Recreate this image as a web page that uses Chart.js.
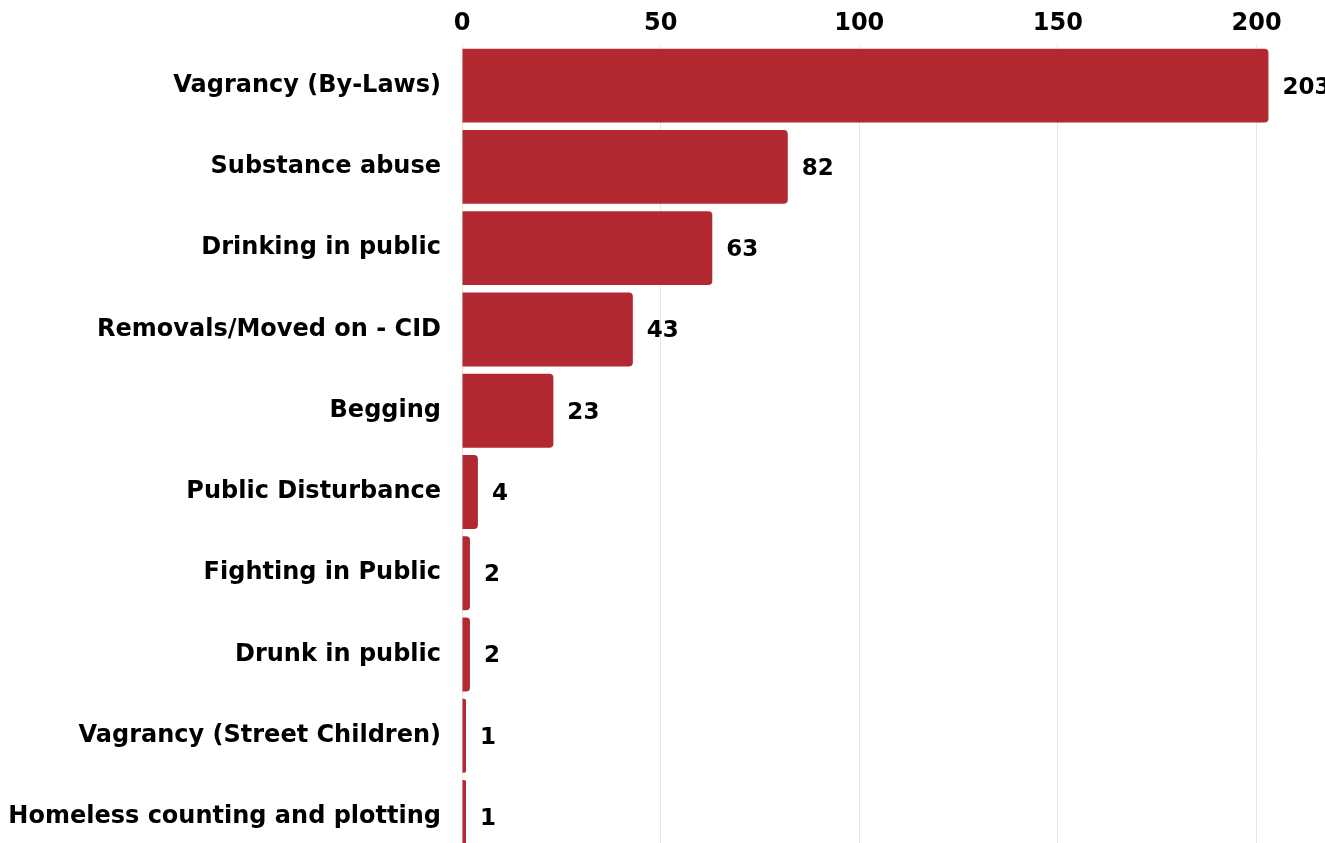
<!DOCTYPE html>
<html>
<head>
<meta charset="utf-8">
<script src="https://cdn.jsdelivr.net/npm/chart.js@4.4.1/dist/chart.umd.min.js"></script>
<style>
  html, body { margin: 0; padding: 0; background: #fff; overflow: hidden; }
  #grafico { position: absolute; left: 0; top: 0; }
</style>
</head>
<body>
<canvas id="grafico" width="1336" height="893"></canvas>
<script>
// Dados
const categorias = [
  'Vagrancy (By-Laws)',
  'Substance abuse',
  'Drinking in public',
  'Removals/Moved on - CID',
  'Begging',
  'Public Disturbance',
  'Fighting in Public',
  'Drunk in public',
  'Vagrancy (Street Children)',
  'Homeless counting and plotting'
];
const valores = [203, 82, 63, 43, 23, 4, 2, 2, 1, 1];
const ticksX = [0, 50, 100, 150, 200];

const fonte = "'DejaVu Sans', sans-serif";

// Rótulos de valor à direita das barras
const rotulos = {
  id: 'rotulos',
  afterDatasetsDraw(chart) {
    const ctx = chart.ctx;
    const meta = chart.getDatasetMeta(0);
    ctx.save();
    ctx.font = 'bold 23px ' + fonte;
    ctx.fillStyle = '#000';
    ctx.textBaseline = 'middle';
    ctx.textAlign = 'left';
    meta.data.forEach((bar, i) => {
      ctx.fillText(String(valores[i]), bar.x + 14, bar.y + 2);
    });
    ctx.restore();
  }
};

const ctx = document.getElementById('grafico').getContext('2d');
const grafico = new Chart(ctx, {
  type: 'bar',
  data: {
    labels: categorias,
    datasets: [{
      data: valores,
      backgroundColor: '#b22931',
      borderRadius: { topRight: 4, bottomRight: 4, topLeft: 0, bottomLeft: 0 },
      borderSkipped: false,
      categoryPercentage: 1,
      barPercentage: 0.91
    }]
  },
  options: {
    indexAxis: 'y',
    responsive: false,
    animation: false,
    layout: { padding: { left: 0, right: 0, top: 0, bottom: 12 } },
    plugins: {
      legend: { display: false },
      tooltip: { enabled: false }
    },
    scales: {
      x: {
        position: 'top',
        min: 0,
        max: 220,
        afterBuildTicks(scale) {
          scale.ticks = ticksX.map(v => ({ value: v }));
        },
        afterFit(scale) { scale.height = 45; },
        grid: { color: '#e6e6e6', drawTicks: false },
        border: { display: false },
        ticks: {
          padding: 7,
          color: '#000',
          font: { family: fonte, size: 24, weight: 'bold' }
        }
      },
      y: {
        afterFit(scale) { scale.width = 462; },
        grid: { display: false, drawTicks: false },
        border: { display: false },
        ticks: {
          padding: 21,
          color: '#000',
          font: { family: fonte, size: 24, weight: 'bold' }
        }
      }
    }
  },
  plugins: [rotulos]
});
</script>
</body>
</html>
